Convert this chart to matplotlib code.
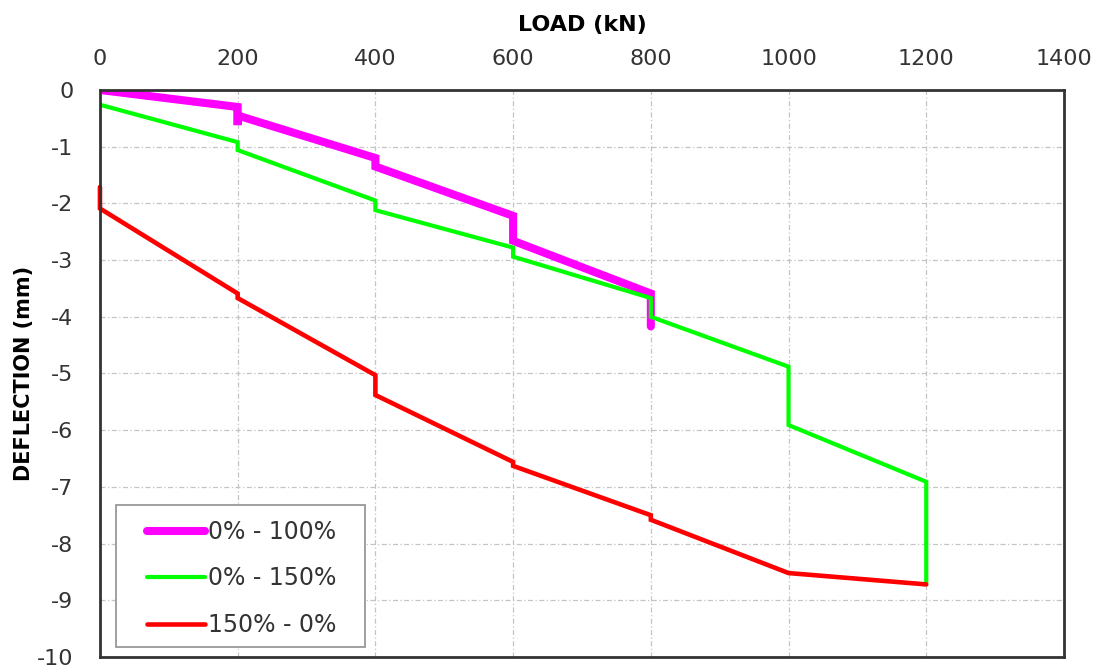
import matplotlib
matplotlib.use("Agg")
import matplotlib.pyplot as plt
from matplotlib.patches import Rectangle

# load steps (kN) and measured deflection (mm) for each cycle
load_0_100 = [0, 200, 200, 200, 400, 400, 600, 600, 800, 800]
defl_0_100 = [0, -0.30, -0.62, -0.45, -1.20, -1.35, -2.22, -2.66, -3.59, -4.17]

load_0_150 = [0, 200, 200, 400, 400, 600, 600, 800, 800, 1000, 1000, 1200, 1200]
defl_0_150 = [-0.26, -0.92, -1.06, -1.95, -2.12, -2.78, -2.94, -3.67, -4.00,
              -4.88, -5.91, -6.91, -8.70]

load_150_0 = [0, 0, 200, 200, 400, 400, 600, 600, 800, 800, 1000, 1200]
defl_150_0 = [-1.71, -2.09, -3.59, -3.67, -5.03, -5.38, -6.56, -6.63, -7.50,
              -7.58, -8.52, -8.72]

x_ticks = [0, 200, 400, 600, 800, 1000, 1200, 1400]
y_ticks = [0, -1, -2, -3, -4, -5, -6, -7, -8, -9, -10]

plt.rcParams['font.family'] = ['DejaVu Sans']
plt.rcParams['axes.unicode_minus'] = False

fig = plt.figure(figsize=(11.02, 6.68), dpi=100)
ax = fig.add_axes([0.0907, 0.0165, 0.8748, 0.8488])

ax.plot(load_0_100, defl_0_100, color='#ff00ff', lw=5.8,
        solid_capstyle='round', solid_joinstyle='miter', label='0% - 100%')
ax.plot(load_0_150, defl_0_150, color='#00ff00', lw=3.0,
        solid_capstyle='round', solid_joinstyle='miter', label='0% - 150%')
ax.plot(load_150_0, defl_150_0, color='#ff0000', lw=3.3, clip_on=False,
        solid_capstyle='round', solid_joinstyle='miter', label='150% - 0%')

ax.set_xlim(0, 1400)
ax.set_ylim(-10, 0)
ax.set_xticks(x_ticks)
ax.set_yticks(y_ticks)
ax.xaxis.tick_top()
ax.xaxis.set_label_position('top')
ax.tick_params(axis='both', length=0, labelsize=16, colors='#333333')
ax.tick_params(axis='x', pad=15)
ax.tick_params(axis='y', pad=19)

ax.set_xlabel('LOAD (kN)', fontsize=16, fontweight='bold', labelpad=13)
ax.set_ylabel('DEFLECTION (mm)', fontsize=15, fontweight='bold', labelpad=2)

ax.grid(True, color='#c4c4c4', linestyle=(0, (4, 2, 1, 2)), lw=0.9)
ax.set_axisbelow(True)
for s in ax.spines.values():
    s.set_color('#333333')
    s.set_linewidth(2.0)

# legend box drawn separately so the inner padding can match the original
ax.add_patch(Rectangle((0.0166, 0.0176), 0.258, 0.25, transform=ax.transAxes,
                       facecolor='white', edgecolor='#999999', lw=1.3, zorder=4))
leg = ax.legend(loc='upper left', bbox_to_anchor=(0.0488, 0.2417),
                fontsize=17, handlelength=2.45, handletextpad=0.15,
                labelspacing=0.95, borderaxespad=0, borderpad=0, frameon=False)
leg.set_zorder(5)
for t in leg.get_texts():
    t.set_color('#333333')

fig.savefig('out.png', dpi=100)
